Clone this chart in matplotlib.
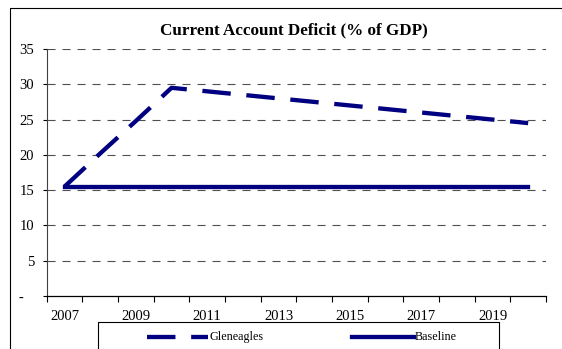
import matplotlib
matplotlib.use("Agg")
import matplotlib.pyplot as plt
from matplotlib.lines import Line2D

plt.rcParams['font.family'] = ['Liberation Serif', 'DejaVu Serif']
plt.rcParams['lines.scale_dashes'] = False

#%% data
years = list(range(2007, 2021))
gleneagles = [15.5, 20.2, 24.8, 29.5, 29.0, 28.5, 28.0, 27.5, 27.0, 26.5, 26.0, 25.5, 25.0, 24.5]
baseline = [15.5] * 14
yticks = [0, 5, 10, 15, 20, 25, 30, 35]
ylabels = ['-   ', '5', '10', '15', '20', '25', '30', '35']

W, H = 562, 349
navy = '#000080'


def fx(px):
    return px / W


def fy(py):
    return 1 - py / H


def fig_line(xp, yp, **kw):
    fig.add_artist(Line2D([fx(v) for v in xp], [fy(v) for v in yp],
                          transform=fig.transFigure, **kw))


#%% figure
fig = plt.figure(figsize=(W / 100, H / 100), dpi=100)
ax = fig.add_axes([fx(46.7), fy(296), fx(546) - fx(46.7), fy(49) - fy(296)])

xs = list(range(len(years)))
ax.plot(xs, gleneagles, color=navy, lw=3.1, dashes=(20.5, 11.3),
        solid_capstyle='butt', dash_capstyle='butt', zorder=3)
ax.plot(xs, baseline, color=navy, lw=3.1, zorder=3)

ax.set_xlim(-0.5, len(years) - 0.5)
ax.set_ylim(0, 35)

ax.set_yticks(yticks)
ax.set_yticklabels(ylabels)
ax.set_xticks(xs[::2])
ax.set_xticklabels([str(y) for y in years[::2]])
ax.set_xticks([i - 0.5 for i in range(len(years) + 1)], minor=True)
ax.tick_params(axis='x', which='major', length=0, pad=10, labelsize=10.5)
ax.tick_params(axis='x', which='minor', length=4, width=0.8, direction='out')
ax.tick_params(axis='y', length=3, width=0.8, direction='out', pad=6, labelsize=10.5)

for y in yticks[1:]:
    ax.axhline(y, color='#505050', lw=0.8, dashes=(5.8, 5.0), zorder=1)

for s in ['top', 'right']:
    ax.spines[s].set_visible(False)
ax.spines['left'].set_color('#404040')
ax.spines['left'].set_linewidth(0.8)
ax.spines['bottom'].set_linewidth(0.9)

fig.text(fx(294), fy(30), 'Current Account Deficit (% of GDP)', ha='center', va='center',
         fontsize=12.3, fontweight='bold')

# outer border: only top and left edges are inside the picture
fig_line([10, 10, 600], [400, 7.5, 7.5], color='black', lw=0.8)

# legend box, cut off at the bottom
fig_line([98, 98, 499, 499], [400, 322, 322, 400], color='black', lw=0.8)
ly = 337
fig_line([147, 207.5], [ly, ly], color=navy, lw=3.1, dashes=(20.5, 11.3), dash_capstyle='butt')
fig.text(fx(209), fy(ly), 'Gleneagles', ha='left', va='center', fontsize=8.7)
fig_line([352, 414], [ly, ly], color=navy, lw=3.1)
fig.text(fx(415), fy(ly), 'Baseline', ha='left', va='center', fontsize=8.7)

fig.savefig('out.png', dpi=100)
